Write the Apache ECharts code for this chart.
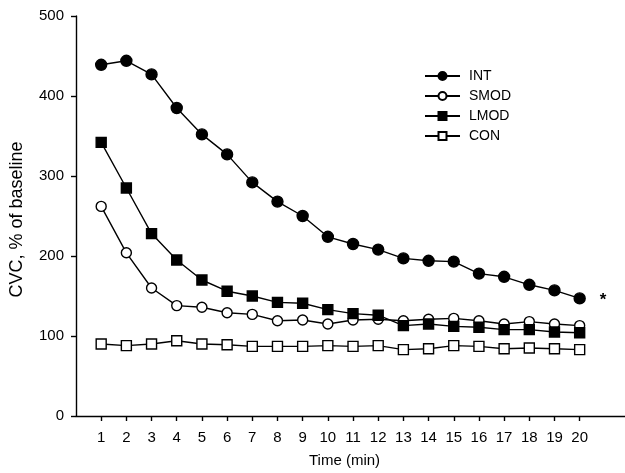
<!DOCTYPE html>
<html>
<head>
<meta charset="utf-8">
<script src="https://cdn.jsdelivr.net/npm/echarts@6/dist/echarts.min.js"></script>
<style>
  html, body { margin: 0; padding: 0; background: #fff; }
  #chart { width: 625px; height: 473px; }
</style>
</head>
<body>
<div id="chart"></div>
<script>
const minutes = [1, 2, 3, 4, 5, 6, 7, 8, 9, 10, 11, 12, 13, 14, 15, 16, 17, 18, 19, 20];
const intVals  = [439, 444, 427, 385, 352, 327, 292, 268, 250, 224, 215, 208, 197, 194, 193, 178, 174, 164, 157, 147];
const smodVals = [262, 204, 160, 138, 136, 129, 127, 119, 120, 115, 120, 121, 119, 121, 122, 119, 115, 118, 115, 113];
const lmodVals = [342, 285, 228, 195, 170, 156, 150, 142, 141, 133, 128, 126, 113, 115, 112, 111, 108, 108, 105, 104];
const conVals  = [90, 88, 90, 94, 90, 89, 87, 87, 87, 88, 87, 88, 83, 84, 88, 87, 84, 85, 84, 83];

const font = 'Liberation Sans, Arial, sans-serif';

function pairs(vals) {
  return minutes.map((m, i) => [m, vals[i]]);
}

function lineSeries(name, vals, symbol, filled, size, extra) {
  return Object.assign({
    name: name,
    type: 'line',
    data: pairs(vals),
    symbol: symbol,
    symbolSize: size,
    showAllSymbol: true,
    lineStyle: { color: '#000', width: 1.4 },
    itemStyle: { color: filled ? '#000' : '#fff', borderColor: '#000', borderWidth: 1.4 },
    emphasis: { disabled: true },
    z: 3
  }, extra || {});
}

const chart = echarts.init(document.getElementById('chart'));
chart.setOption({
  animation: false,
  grid: { left: 76, right: 0, top: 16, bottom: 57, outerBoundsMode: 'none' },
  legend: {
    orient: 'vertical',
    left: 419,
    top: 64,
    itemWidth: 35,
    itemHeight: 10,
    itemGap: 6,
    textStyle: { fontFamily: font, fontSize: 14, color: '#000', padding: [0, 0, 0, 4] },
    data: ['INT', 'SMOD', 'LMOD', 'CON']
  },
  xAxis: {
    type: 'value',
    min: 0,
    max: 21.8,
    interval: 1,
    name: 'Time (min)',
    nameLocation: 'middle',
    nameGap: 37,
    nameTextStyle: { fontFamily: font, fontSize: 15, color: '#000', padding: [0, 12, 0, 0] },
    axisLine: { lineStyle: { color: '#000', width: 1.4 } },
    axisTick: { show: true, length: 5, lineStyle: { color: '#000', width: 1.4 }, customValues: minutes },
    axisLabel: { fontFamily: font, fontSize: 15, color: '#000', margin: 14, customValues: minutes },
    splitLine: { show: false }
  },
  yAxis: {
    type: 'value',
    min: 0,
    max: 500,
    interval: 100,
    name: 'CVC, % of baseline',
    nameLocation: 'middle',
    nameGap: 50,
    nameTextStyle: { fontFamily: font, fontSize: 18, color: '#000', padding: [0, 7, 0, 0] },
    axisLine: { show: true, lineStyle: { color: '#000', width: 1.4 } },
    axisTick: { show: true, length: 5, lineStyle: { color: '#000', width: 1.4 } },
    axisLabel: { fontFamily: font, fontSize: 15, color: '#000', margin: 12 },
    splitLine: { show: false }
  },
  series: [
    lineSeries('INT', intVals, 'circle', true, 11, {
      endLabel: { show: true, formatter: '*', distance: 20, fontFamily: font, fontSize: 17, fontWeight: 'bold', color: '#000', offset: [0, 2] }
    }),
    lineSeries('SMOD', smodVals, 'circle', false, 10),
    lineSeries('LMOD', lmodVals, 'rect', true, 10),
    lineSeries('CON', conVals, 'rect', false, 10)
  ]
});
</script>
</body>
</html>
